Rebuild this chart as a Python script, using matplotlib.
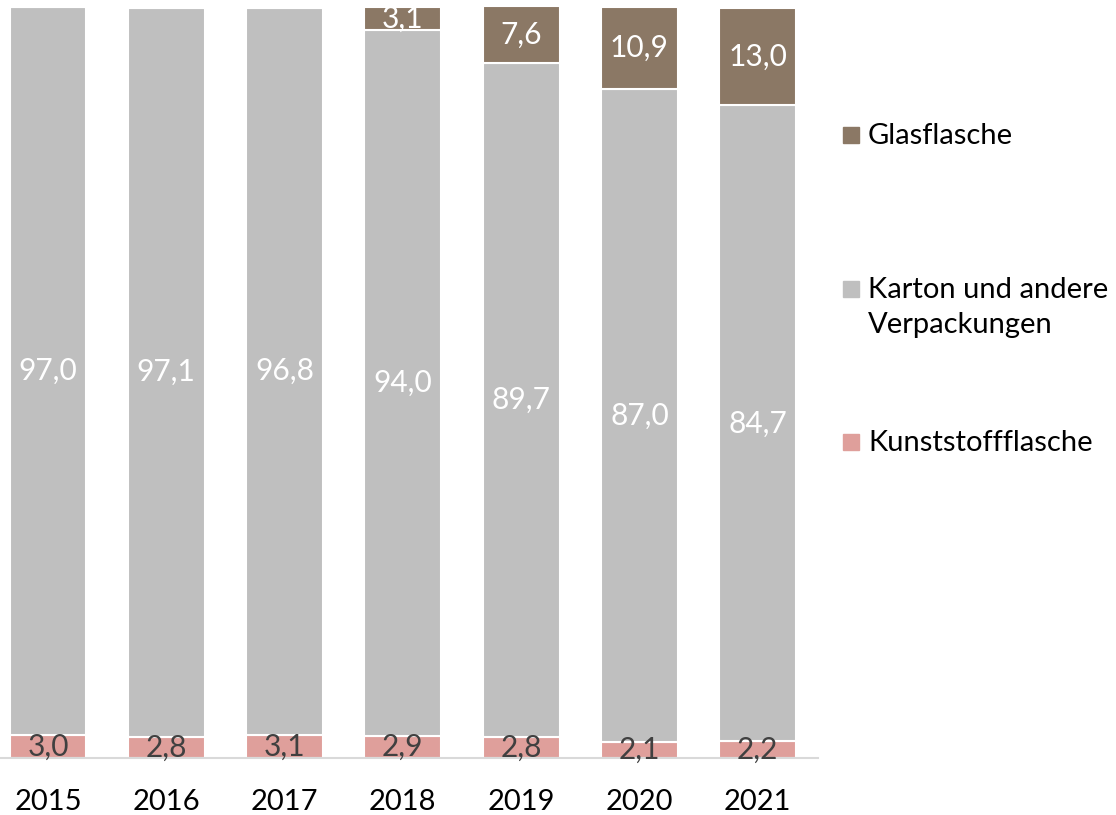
import matplotlib
matplotlib.use("Agg")
import matplotlib.pyplot as plt
from matplotlib.patches import Rectangle
import numpy as np

# data (shares in %)
years = ["2015", "2016", "2017", "2018", "2019", "2020", "2021"]
kunststoff = [3.0, 2.8, 3.1, 2.9, 2.8, 2.1, 2.2]
karton = [97.0, 97.1, 96.8, 94.0, 89.7, 87.0, 84.7]
glas = [0.0, 0.0, 0.0, 3.1, 7.6, 10.9, 13.0]

names = ["Kunststoffflasche", "Karton und andere\nVerpackungen", "Glasflasche"]
colors = ["#DF9F9B", "#BFBFBF", "#8B7865"]
label_colors = ["#404040", "white", "white"]

plt.rcParams['font.family'] = ['Lato', 'DejaVu Sans']

fig = plt.figure(figsize=(11.16, 8.15), dpi=100)
ax = fig.add_axes([0.0, 0.070, 0.733, 0.9216])

x = np.arange(len(years))
series = [kunststoff, karton, glas]
bottom = np.zeros(len(years))
for vals, col, lcol in zip(series, colors, label_colors):
    vals = np.array(vals)
    ax.bar(x, vals, 0.65, bottom=bottom, color=col, edgecolor="white", linewidth=1.5)
    for i, v in enumerate(vals):
        if v > 0:
            txt = f"{v:.1f}".replace(".", ",")
            ax.text(x[i], bottom[i] + v / 2, txt, ha="center", va="center",
                    color=lcol, fontsize=21.5)
    bottom = bottom + vals

ax.set_xlim(-0.406, 6.51)
ax.set_ylim(0, 100)
ax.set_xticks(x)
ax.set_xticklabels(years, fontsize=21)
ax.tick_params(axis="x", length=0, pad=22)
ax.set_yticks([])
for s in ["top", "right", "left"]:
    ax.spines[s].set_visible(False)
ax.spines["bottom"].set_color("#D9D9D9")
ax.spines["bottom"].set_linewidth(1.5)

# legend drawn by hand (top entry first)
W, H = 1116.0, 815.0
leg_y = [442, 289, 135]
for name, col, yy in zip(names, colors, leg_y):
    fig.add_artist(Rectangle((843 / W, 1 - (yy + 8) / H), 16 / W, 16 / H,
                             transform=fig.transFigure, color=col))
    fig.text(868 / W, 1 - (yy - 12) / H, name, ha="left", va="top",
             fontsize=21, linespacing=1.45)

fig.savefig("out.png", dpi=100)
